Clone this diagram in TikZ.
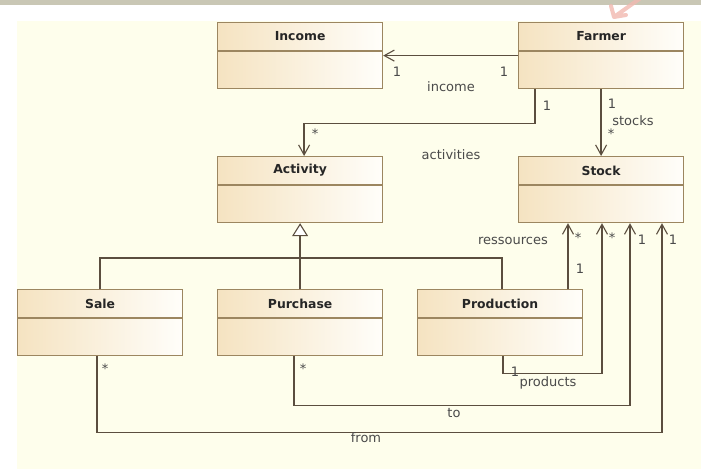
\documentclass[tikz,border=0pt]{standalone}
\usepackage{fontspec}
\setmainfont{DejaVu Sans}
\usetikzlibrary{arrows.meta}

\definecolor{bgcream}{HTML}{FEFEEC}
\definecolor{topbar}{HTML}{C9C7B5}
\definecolor{boxtan}{HTML}{F5E3C1}
\definecolor{boxwhite}{HTML}{FFFEFA}
\definecolor{boxline}{HTML}{9C8660}
\definecolor{wire}{HTML}{5B4E3F}
\definecolor{labelgray}{HTML}{4A4A4A}
\definecolor{pinkmark}{HTML}{F2B8B0}

\tikzset{
  classbox/.style={draw=boxline, line width=1.2pt, left color=boxtan, right color=boxwhite,
    minimum width=165pt, minimum height=66pt, inner sep=0pt, anchor=north west},
  classtitle/.style={text=black!85, font=\fontsize{12.4}{14}\selectfont\bfseries, inner sep=0pt},
  divider/.style={draw=boxline, line width=1.1pt},
  assoc/.style={draw=wire, line width=1.3pt},
  nav/.style={assoc, -{Straight Barb[length=10pt,width=11pt,line width=1.1pt]}},
  gen/.style={assoc, -{Triangle[open,length=13pt,width=16pt,fill=white,line width=1.1pt]}},
  lbl/.style={text=labelgray, font=\fontsize{13}{15}\selectfont, inner sep=0pt},
}

% class box: name, left x, top y, title
\newcommand\umlclass[4]{%
  \node[classbox] (#1) at (#2,#3) {};
  \draw[divider] ([yshift=-29pt]#1.north west) -- ([yshift=-29pt]#1.north east);
  \node[classtitle] at ([yshift=-14.5pt]#1.north) {#4};
}

\begin{document}
\begin{tikzpicture}[x=1pt,y=-1pt]
  \useasboundingbox (0,0) rectangle (701,469);
  % backdrop
  \fill[white] (0,0) rectangle (701,469);
  \fill[bgcream] (17,21) rectangle (701,469);
  \fill[topbar] (0,0) rectangle (701,5);
  % pointer mark
  \draw[pinkmark, opacity=0.8, line width=4pt, line cap=round, line join=round]
    (642,-3) -- (614,17) (611,6) -- (614,17) -- (626,15);

  % classes
  \umlclass{income}{217}{22}{Income}
  \umlclass{farmer}{518}{22}{Farmer}
  \umlclass{activity}{217}{156}{Activity}
  \umlclass{stock}{518}{156}{Stock}
  \umlclass{sale}{17}{289}{Sale}
  \umlclass{purchase}{217}{289}{Purchase}
  \umlclass{production}{417}{289}{Production}

  % Farmer -> Income
  \draw[nav] (farmer.west) -- (income.east);
  \node[lbl] at (397,72) {1};
  \node[lbl] at (504,72) {1};
  \node[lbl] at (451,87) {income};

  % Farmer -> Activity
  \draw[nav] ([xshift=17pt]farmer.south west) -- ++(0,34) -| ([xshift=4pt]activity.north);
  \node[lbl] at (547,106) {1};
  \node[lbl] at (315,134) {*};
  \node[lbl] at (451,155) {activities};

  % Farmer -> Stock
  \draw[nav] (farmer.south) -- (stock.north);
  \node[lbl] at (612,104) {1};
  \node[lbl] at (633,121) {stocks};
  \node[lbl] at (611,134) {*};

  % generalisation tree
  \draw[assoc] (sale.north) -- ++(0,-31) -| ([xshift=2pt]production.north);
  \draw[gen] (purchase.north) -- (activity.south);

  % Production -> Stock (ressources)
  \draw[nav] ([xshift=151pt]production.north west) coordinate (res)
    -- (res |- stock.south);
  \node[lbl] at (513,241) {ressources};
  \node[lbl] at (578,238) {*};
  \node[lbl] at (580,269) {1};

  % Production -> Stock (products)
  \draw[nav] ([xshift=86pt]production.south west) -- ++(0,17) -| ([xshift=84pt]stock.south west);
  \node[lbl] at (515,372) {1};
  \node[lbl] at (548,383) {products};
  \node[lbl] at (612,238) {*};

  % Purchase -> Stock (to)
  \draw[nav] ([xshift=77pt]purchase.south west) -- ++(0,49) -| ([xshift=112pt]stock.south west);
  \node[lbl] at (303,369) {*};
  \node[lbl] at (454,413) {to};
  \node[lbl] at (642,240) {1};

  % Sale -> Stock (from)
  \draw[nav] ([xshift=80pt]sale.south west) -- ++(0,76) -| ([xshift=144pt]stock.south west);
  \node[lbl] at (105,369) {*};
  \node[lbl] at (366,438) {from};
  \node[lbl] at (673,240) {1};
\end{tikzpicture}
\end{document}
